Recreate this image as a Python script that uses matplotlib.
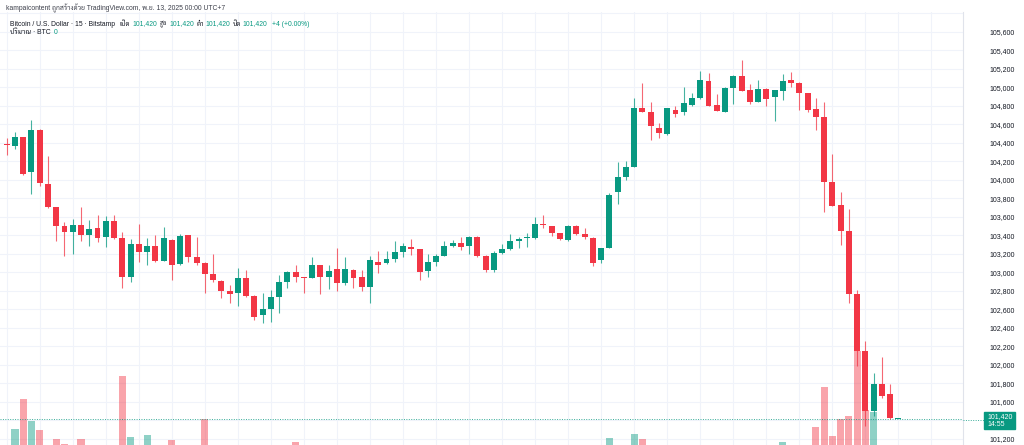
import matplotlib
matplotlib.use('Agg')
import matplotlib.pyplot as plt
from matplotlib import font_manager as fm
from matplotlib.patches import Rectangle
from matplotlib.lines import Line2D

# ---------------- data (BTC/USD, 15 min, Bitstamp) ----------------
opens = [104380, 104370, 104465, 104085, 104545, 103955, 103705, 103505, 103440, 103515,
         103400, 103485, 103385, 103555, 103375, 102955, 103310, 103220, 103290, 103125,
         103355, 103090, 103405, 103170, 103105, 102980, 102910, 102800, 102780, 102935,
         102750, 102540, 102600, 102730, 102900, 103000, 102950, 102945, 103080, 102950,
         103035, 102890, 103025, 102950, 102845, 103115, 103100, 103145, 103225, 103280,
         103250, 103020, 103115, 103180, 103285, 103315, 103285, 103385, 103180, 103025,
         103215, 103250, 103335, 103372, 103370, 103525, 103505, 103425, 103350, 103505,
         103415, 103375, 103130, 103270, 103875, 104035, 104145, 104775, 104740, 104560,
         104495, 104755, 104730, 104810, 104885, 105070, 104810, 104740, 104995, 105125,
         104975, 104845, 104985, 104895, 104960, 105080, 105045, 104935, 104765, 104685,
         103980, 103725, 103450, 102765, 102150, 101505, 101790, 101685, 101420]
highs = [104455, 104520, 104470, 104645, 104550, 104255, 103710, 103550, 103580, 103710,
         103565, 103620, 103615, 103620, 103435, 103360, 103520, 103370, 103400, 103495,
         103360, 103415, 103410, 103385, 103110, 103195, 102915, 102865, 103050, 103025,
         102755, 102780, 102810, 102975, 103020, 103080, 102955, 103165, 103085, 103080,
         103260, 103165, 103035, 103025, 103180, 103235, 103235, 103335, 103320, 103360,
         103255, 103200, 103205, 103335, 103350, 103380, 103395, 103395, 103185, 103235,
         103310, 103415, 103385, 103430, 103595, 103620, 103505, 103430, 103510, 103510,
         103480, 103380, 103270, 103855, 104190, 104200, 104885, 105045, 104840, 104615,
         104775, 104795, 105010, 104935, 105175, 105160, 104925, 105000, 105130, 105295,
         105035, 105080, 104990, 104975, 105145, 105165, 105055, 104945, 104890, 104845,
         104280, 103865, 103685, 102810, 102260, 101910, 102090, 101790, 101420]
lows = [104270, 104330, 104055, 103845, 103930, 103700, 103340, 103180, 103195, 103340,
        103285, 103325, 103275, 103360, 102835, 102900, 103115, 103080, 103110, 103120,
        102920, 103085, 103115, 103080, 102775, 102900, 102720, 102665, 102640, 102740,
        102485, 102450, 102470, 102565, 102830, 102900, 102775, 102940, 102770, 102820,
        102795, 102860, 102830, 102800, 102665, 102990, 103095, 103115, 103165, 103190,
        102920, 102950, 103070, 103175, 103280, 103245, 103205, 103170, 103010, 103010,
        103205, 103240, 103260, 103280, 103360, 103480, 103395, 103355, 103345, 103405,
        103360, 103070, 103105, 103265, 103745, 104000, 104140, 104730, 104430, 104450,
        104490, 104680, 104705, 104795, 104880, 104800, 104745, 104735, 104825, 104960,
        104820, 104845, 104795, 104635, 104860, 105010, 104755, 104735, 104540, 103655,
        103715, 103295, 102665, 101990, 101335, 101445, 101640, 101420, 101420]
closes = [104375, 104465, 104065, 104545, 103970, 103705, 103505, 103440, 103515, 103400,
          103465, 103375, 103555, 103375, 102955, 103310, 103225, 103290, 103125, 103375,
          103080, 103390, 103170, 103105, 102980, 102915, 102800, 102770, 102935, 102745,
          102515, 102600, 102740, 102900, 103010, 102950, 102945, 103080, 102950, 103020,
          102890, 103035, 102945, 102845, 103130, 103080, 103145, 103225, 103285, 103255,
          103000, 103115, 103180, 103285, 103315, 103280, 103385, 103180, 103025, 103215,
          103250, 103340, 103365, 103380, 103525, 103515, 103425, 103360, 103505, 103415,
          103380, 103105, 103260, 103840, 104035, 104145, 104775, 104730, 104585, 104505,
          104775, 104715, 104830, 104885, 105080, 104805, 104745, 104995, 105125, 104965,
          104845, 104985, 104875, 104970, 105070, 105045, 104935, 104755, 104685, 103980,
          103720, 103450, 102765, 102150, 101505, 101790, 101670, 101425, 101420]
volumes = [4, 23, 53, 31, 22, 6, 13, 8, 5, 13,
           3, 4, 5, 4, 76, 15, 6, 17, 4, 6,
           12, 5, 3, 4, 33, 5, 6, 3, 6, 4,
           6, 5, 4, 5, 3, 10, 2, 4, 5, 3,
           6, 5, 3, 4, 6, 3, 2, 4, 3, 2,
           6, 4, 2, 3, 2, 2, 3, 5, 4, 5,
           2, 3, 2, 2, 5, 3, 2, 2, 4, 3,
           2, 6, 4, 14, 6, 4, 18, 13, 6, 4,
           6, 3, 5, 3, 6, 5, 3, 5, 4, 6,
           4, 3, 3, 5, 10, 3, 5, 6, 25, 65,
           16, 33, 36, 101, 42, 40, 6, 5, 0]
price_ticks = list(range(101200, 105801, 200))
last_price = 101420
countdown = "14:55"

GREEN = '#089981'
RED = '#f23645'
TXT = '#131722'
GRID = '#f0f3fa'

# Thai-capable font (first one installed from a preference list)
installed = {f.name for f in fm.fontManager.ttflist}
THAI = next((f for f in ['Sarabun', 'Noto Sans Thai', 'Noto Sans Thai UI', 'IBM Plex Sans Thai',
                         'Anuphan', 'Bai Jamjuree', 'Athiti'] if f in installed), 'DejaVu Sans')
FAM = ['Liberation Sans', THAI, 'DejaVu Sans']

W, H = 1024, 445
fig = plt.figure(figsize=(W / 100, H / 100), dpi=100)
fig.patch.set_facecolor('white')


def px_rect(l, t, r, b):
    return [l / W, 1 - b / H, (r - l) / W, (b - t) / H]


rect = px_rect(0, 12, 963, 445)
ax_bg = fig.add_axes(rect)
ax_vol = fig.add_axes(rect, sharex=ax_bg)
ax = fig.add_axes(rect, sharex=ax_bg, sharey=ax_bg)
for a in (ax_vol, ax):
    a.patch.set_visible(False)
    for s in a.spines.values():
        s.set_visible(False)
    a.tick_params(left=False, right=False, bottom=False, top=False,
                  labelleft=False, labelright=False, labelbottom=False)
ax_bg.set_zorder(0)
ax_vol.set_zorder(1)
ax.set_zorder(2)

n = len(opens)
idx = list(range(n))
ax_bg.set_xlim(-0.811, 115.82)
ax_bg.set_ylim(101135, 105816)
ax_vol.set_ylim(7, 440)

# grid + price axis
ax_bg.set_xticks(list(range(0, 116, 4)))
ax_bg.set_yticks(price_ticks)
ax_bg.set_yticklabels(['' if (p == 101400 or p == 105800) else f'{p:,}' for p in price_ticks])
ax_bg.grid(True, color=GRID, lw=0.8)
ax_bg.yaxis.tick_right()
ax_bg.tick_params(axis='y', length=0, pad=19, labelsize=5, labelcolor=TXT)
ax_bg.tick_params(axis='x', length=0, labelbottom=False)
for lab in ax_bg.get_yticklabels():
    lab.set_family(FAM)
for k, s in ax_bg.spines.items():
    s.set_visible(k == 'right')
ax_bg.spines['right'].set_color('#e0e3eb')
ax_bg.spines['right'].set_linewidth(0.8)

# volume
vcols = [(GREEN if c >= o else RED) for o, c in zip(opens, closes)]
ax_vol.bar(idx, volumes, width=0.86, color=vcols, alpha=0.45, linewidth=0)

# candles
cols = [(GREEN if c > o else RED) for o, c in zip(opens, closes)]
cols[-1] = GREEN
ax.vlines(idx, lows, highs, colors=cols, lw=0.8, alpha=0.75, zorder=2)
bottoms = [min(o, c) for o, c in zip(opens, closes)]
heights = [max(abs(c - o), 11) for o, c in zip(opens, closes)]
ax.bar(idx, heights, bottom=bottoms, width=0.72, color=cols, linewidth=0, zorder=3)

# last price dotted line + label
ax.axhline(last_price, color=GREEN, lw=0.7, ls=(0, (1, 1.5)), alpha=0.8, zorder=1)
yp = 1 - 420.0 / H
fig.add_artist(Line2D([963 / W, 984 / W], [yp, yp], color=GREEN, lw=0.7,
                      ls=(0, (1, 1.5)), alpha=0.8))
fig.add_artist(Rectangle((984 / W, 1 - 429 / H), 31 / W, 17 / H, color=GREEN,
                         transform=fig.transFigure))
fig.text(987 / W, 1 - 416.5 / H, f'{last_price:,}', color='white', fontsize=5,
         family=FAM, va='center', ha='left')
fig.text(987 / W, 1 - 424.5 / H, countdown, color='white', fontsize=5,
         family=FAM, va='center', ha='left')

# header
fig.text(6 / W, 1 - 8 / H,
         'kampaicontent ถูกสร้างด้วย TradingView.com, พ.ย. 13, 2025 00:00 UTC+7',
         color='#3c3f4a', fontsize=4.85, family=FAM, va='center', ha='left')

renderer = fig.canvas.get_renderer()
FS = 4.9


def put_row(y_px, segs):
    end = -1e9
    for x, gap, s, c in segs:
        xx = max(x, end + gap)
        t = fig.text(xx / W, 1 - y_px / H, s, color=c, fontsize=FS, family=FAM,
                     va='center', ha='left')
        bb = t.get_window_extent(renderer=renderer)
        end = bb.x1


put_row(24, [(10, 0, 'Bitcoin / U.S. Dollar · 15 · Bitstamp', TXT),
             (119, 3, 'เปิด', TXT), (132, 1, '101,420', GREEN),
             (159, 3, 'สูง', TXT), (169, 1, '101,420', GREEN),
             (195.5, 3, 'ต่ำ', TXT), (202.5, 1, '101,420', GREEN),
             (228, 3, 'ปิด', TXT), (238, 1, '101,420', GREEN),
             (265.5, 5, '+4 (+0.00%)', GREEN)])
put_row(33, [(10, 0, 'ปริมาณ · BTC', TXT), (52.5, 3, '0', GREEN)])

fig.savefig('out.png', dpi=100, facecolor='white')
